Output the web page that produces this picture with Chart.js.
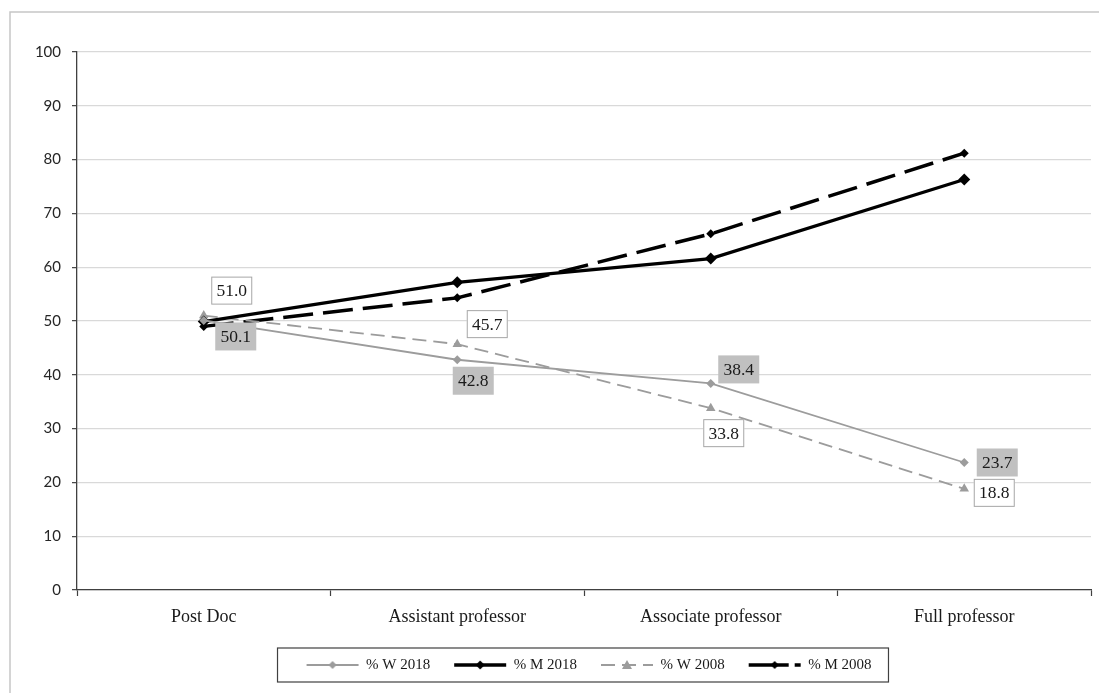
<!DOCTYPE html>
<html>
<head>
<meta charset="utf-8">
<script src="https://cdn.jsdelivr.net/npm/chart.js@4"></script>
<style>
  html, body { margin: 0; padding: 0; background: #fff; }
  #wrap { position: relative; width: 1099px; height: 693px; }
</style>
</head>
<body>
<div id="wrap"><canvas id="g-rangos"></canvas></div>
<script>
// Datos (% mujeres / hombres por rango)
const categorias = ["Post Doc", "Assistant professor", "Associate professor", "Full professor"];
const w2018 = [50.1, 42.8, 38.4, 23.7];
const m2018 = [49.9, 57.2, 61.6, 76.3];
const w2008 = [51.0, 45.7, 33.8, 18.8];
const m2008 = [49.0, 54.3, 66.2, 81.2];
const etiquetas = ["% W 2018", "% M 2018", "% W 2008", "% M 2008"];

// desplazamiento de las cajas de valores respecto al punto (px)
const offW2018 = [[32, 16], [16, 21], [28, -14], [33, 0]];
const offW2008 = [[28, -25], [30, -20], [13, 25], [30, 4]];

var gris = "#9c9c9c", negro = "#000", serif = "'Liberation Serif', serif";

// muestra de linea+marcador para la leyenda (se dibuja como imagen)
function muestra(color, ancho, dash, marcador, r) {
  var c = document.createElement("canvas");
  c.width = 82; c.height = 16;
  var x = c.getContext("2d");
  x.strokeStyle = color; x.lineWidth = ancho; x.setLineDash(dash);
  x.beginPath(); x.moveTo(20, 8); x.lineTo(72, 8); x.stroke();
  x.setLineDash([]); x.fillStyle = color;
  x.beginPath();
  if (marcador === "tri") { x.moveTo(46, 8 - r); x.lineTo(46 + r, 8 + r * 0.8); x.lineTo(46 - r, 8 + r * 0.8); }
  else { x.moveTo(46, 8 - r); x.lineTo(46 + r, 8); x.lineTo(46, 8 + r); x.lineTo(46 - r, 8); }
  x.closePath(); x.fill();
  return c;
}
var muestras = [
  muestra(gris, 1.8, [], "dia", 4),
  muestra(negro, 3.5, [], "dia", 4.5),
  muestra(gris, 1.8, [14, 7], "tri", 5),
  muestra(negro, 3.5, [40, 6], "dia", 4)
];

var marcoPlugin = {
  id: "marco",
  beforeDraw: function(chart) {
    var ctx = chart.ctx;
    ctx.save();
    ctx.fillStyle = "#fff"; ctx.fillRect(0, 0, chart.width, chart.height);
    ctx.strokeStyle = "#c6c6c6"; ctx.lineWidth = 1.5;
    ctx.beginPath(); ctx.moveTo(10, chart.height); ctx.lineTo(10, 12); ctx.lineTo(chart.width, 12); ctx.stroke();
    ctx.restore();
  },
  afterDraw: function(chart) {
    var hb = chart.legend.legendHitBoxes;
    if (!hb || !hb.length) return;
    var ctx = chart.ctx, a = hb[0], b = hb[hb.length - 1];
    var cy = a.top + a.height / 2;
    ctx.save();
    ctx.strokeStyle = "#404040"; ctx.lineWidth = 1.2;
    ctx.strokeRect(a.left - 19, cy - 17, (b.left + b.width + 17) - (a.left - 19), 34);
    ctx.restore();
  }
};

var valoresPlugin = {
  id: "valores",
  afterDatasetsDraw: function(chart) {
    var ctx = chart.ctx;
    ctx.save();
    ctx.font = "17.5px " + serif;
    ctx.textAlign = "center"; ctx.textBaseline = "middle";
    [[0, w2018, offW2018, true], [2, w2008, offW2008, false]].forEach(function(s) {
      var meta = chart.getDatasetMeta(s[0]);
      s[1].forEach(function(v, i) {
        var p = meta.data[i], cx = p.x + s[2][i][0], cy = p.y + s[2][i][1];
        var w = 41, h = 28;
        if (s[3]) {
          ctx.fillStyle = "#c0c0c0"; ctx.fillRect(cx - w / 2, cy - h / 2, w, h);
        } else {
          ctx.fillStyle = "#fff"; ctx.fillRect(cx - w / 2, cy - h / 2, w, h);
          ctx.strokeStyle = "#a6a6a6"; ctx.lineWidth = 1;
          ctx.strokeRect(cx - w / 2 + 0.5, cy - h / 2 + 0.5, w - 1, h - 1);
        }
        ctx.fillStyle = "#1a1a1a";
        ctx.fillText(v.toFixed(1), cx, cy + 1);
      });
    });
    ctx.restore();
  }
};

new Chart(document.getElementById("g-rangos"), {
  type: "line",
  data: {
    labels: categorias,
    datasets: [
      { label: etiquetas[0], data: w2018, borderColor: gris, backgroundColor: gris, borderWidth: 1.8,
        pointStyle: "rectRot", pointRadius: 4.5, pointBorderWidth: 0, tension: 0 },
      { label: etiquetas[1], data: m2018, borderColor: negro, backgroundColor: negro, borderWidth: 3.3,
        pointStyle: "rectRot", pointRadius: 6, pointBorderWidth: 0, tension: 0 },
      { label: etiquetas[2], data: w2008, borderColor: gris, backgroundColor: gris, borderWidth: 1.8,
        borderDash: [14, 7], pointStyle: "triangle", pointRadius: 5.5, pointBorderWidth: 0, tension: 0 },
      { label: etiquetas[3], data: m2008, borderColor: negro, backgroundColor: negro, borderWidth: 3.5,
        borderDash: [30, 10], pointStyle: "rectRot", pointRadius: 4.5, pointBorderWidth: 0, tension: 0 }
    ]
  },
  options: {
    responsive: true, maintainAspectRatio: false, animation: false,
    layout: { padding: { left: 0, right: 8, top: 52, bottom: 10.5 } },
    plugins: {
      tooltip: { enabled: false },
      legend: {
        position: "bottom", fullSize: false,
        labels: {
          usePointStyle: true, pointStyleWidth: 62, padding: 14,
          color: "#1a1a1a", font: { size: 15, family: serif },
          generateLabels: function(chart) {
            return chart.data.datasets.map(function(ds, i) {
              return { text: ds.label, pointStyle: muestras[i], datasetIndex: i, hidden: false,
                       fillStyle: "transparent", strokeStyle: "transparent", lineWidth: 0, fontColor: "#1a1a1a" };
            });
          }
        }
      }
    },
    scales: {
      x: {
        offset: true,
        afterFit: function(s) { s.height = 53.5; },
        grid: { drawOnChartArea: false, drawTicks: true, tickLength: 6, offset: true, tickColor: "#404040", tickWidth: 1.2 },
        border: { color: "#404040", width: 1.3 },
        ticks: { color: "#1a1a1a", font: { size: 18, family: serif }, padding: 10, maxRotation: 0 }
      },
      y: {
        min: 0, max: 100,
        afterFit: function(s) { s.width = 77; },
        grid: { color: "#d9d9d9", lineWidth: 1.3, drawTicks: true, tickLength: 5, tickColor: "#404040", tickWidth: 1.2 },
        border: { color: "#404040", width: 1.3 },
        ticks: { stepSize: 10, color: "#262626", font: { size: 15, family: "Lato" }, padding: 11 }
      }
    }
  },
  plugins: [marcoPlugin, valoresPlugin]
});
</script>
</body>
</html>
